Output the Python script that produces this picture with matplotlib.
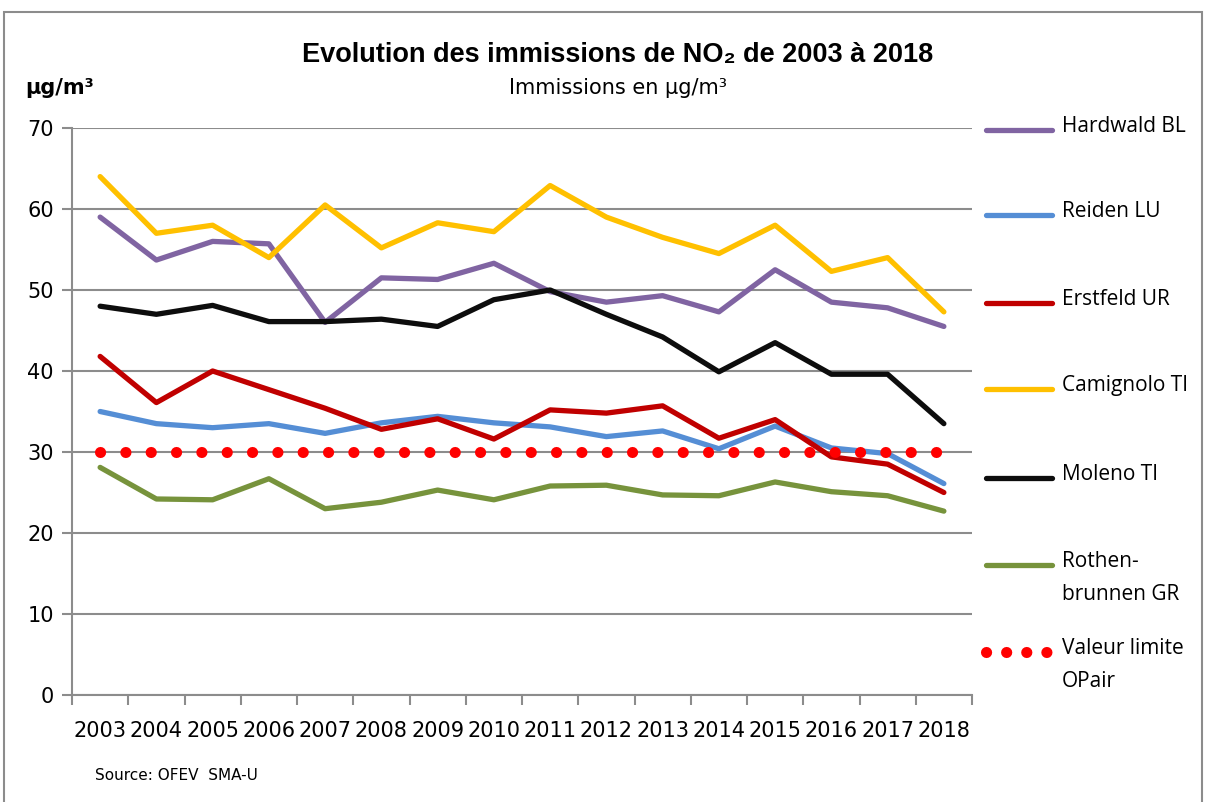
import numpy as np
import matplotlib.pyplot as plt
from matplotlib.patches import Rectangle
from matplotlib.lines import Line2D

# Données (µg/m3)
annees = list(range(2003, 2019))
hardwald = [59.0, 53.7, 56.0, 55.7, 46.0, 51.5, 51.3, 53.3, 49.8, 48.5, 49.3, 47.3, 52.5, 48.5, 47.8, 45.5]
reiden = [35.0, 33.5, 33.0, 33.5, 32.3, 33.6, 34.4, 33.6, 33.1, 31.9, 32.6, 30.4, 33.2, 30.5, 29.8, 26.1]
erstfeld = [41.8, 36.1, 40.0, 37.7, 35.4, 32.8, 34.1, 31.6, 35.2, 34.8, 35.7, 31.7, 34.0, 29.4, 28.5, 25.0]
camignolo = [64.0, 57.0, 58.0, 54.0, 60.5, 55.2, 58.3, 57.2, 62.9, 59.0, 56.5, 54.5, 58.0, 52.3, 54.0, 47.3]
moleno = [48.0, 47.0, 48.1, 46.1, 46.1, 46.4, 45.5, 48.8, 50.0, 47.0, 44.2, 39.9, 43.5, 39.6, 39.6, 33.5]
rothenbrunnen = [28.1, 24.2, 24.1, 26.7, 23.0, 23.8, 25.3, 24.1, 25.8, 25.9, 24.7, 24.6, 26.3, 25.1, 24.6, 22.7]
valeur_limite = [30] * 16

series = [
    ("Hardwald BL", hardwald, "#8064A2"),
    ("Reiden LU", reiden, "#558ED5"),
    ("Erstfeld UR", erstfeld, "#C00000"),
    ("Camignolo TI", camignolo, "#FFC000"),
    ("Moleno TI", moleno, "#0D0D0D"),
    ("Rothen-\nbrunnen GR", rothenbrunnen, "#77933C"),
]

plt.rcParams['font.family'] = ['DejaVu Sans']

W, H = 1206, 802
fig = plt.figure(figsize=(W / 100, H / 100), dpi=100)
ax = fig.add_axes([72 / W, 1 - 695 / H, 900 / W, 567 / H])

# cadre extérieur
fig.patches.append(Rectangle((4 / W, -0.05), 1198 / W, 1 - 12 / H + 0.05,
                             transform=fig.transFigure, fill=False,
                             edgecolor="#8c8c8c", linewidth=1.5))

style_ligne = dict(linewidth=3.8, solid_capstyle='round', solid_joinstyle='round')
style_limite = dict(color="#FF0000", linewidth=8, dashes=[0.01, 2.27], dash_capstyle='round')

for nom, valeurs, couleur in series:
    ax.plot(annees, valeurs, color=couleur, label=nom, **style_ligne)

ax.plot(annees, valeur_limite, label="Valeur limite\nOPair", **style_limite)

ax.set_xlim(2002.5, 2018.5)
ax.set_ylim(0, 70)
ax.set_yticks(range(0, 71, 10))
ax.set_xticks(annees)
ax.set_xticks(np.arange(2002.5, 2019, 1), minor=True)
ax.tick_params(axis='x', which='major', length=0, pad=19, labelsize=15)
ax.tick_params(axis='x', which='minor', length=7, width=1.5, color="#8c8c8c")
ax.tick_params(axis='y', length=7, width=1.5, color="#8c8c8c", pad=6, labelsize=15)
ax.grid(axis='y', color="#8c8c8c", linewidth=1.5)
ax.set_axisbelow(True)
for cote in ['top', 'right']:
    ax.spines[cote].set_visible(False)
for cote in ['left', 'bottom']:
    ax.spines[cote].set_color("#8c8c8c")
    ax.spines[cote].set_linewidth(1.5)

# légende dessinée à la main (une entrée tous les ~87 px)
police_leg = ['Open Sans', 'DejaVu Sans']
y_leg = [130, 215, 303, 389, 478, 565, 652]
entrees = [(nom, dict(color=c, **style_ligne)) for nom, _, c in series]
entrees.append(("Valeur limite\nOPair", dict(style_limite, dashes=[0.01, 1.8])))
for (nom, style), y in zip(entrees, y_leg):
    yf = 1 - y / H
    fig.add_artist(Line2D([986 / W, 1052 / W], [yf, yf], transform=fig.transFigure, **style))
    fig.text(1062 / W, 1 - (y - 14) / H, nom, ha='left', va='top', fontsize=15,
             family=police_leg, linespacing=1.75)

fig.text(618 / W, 1 - 55 / H, "Evolution des immissions de NO₂ de 2003 à 2018",
         ha='center', va='center', fontsize=19.5, fontweight='bold',
         family=['Liberation Sans', 'DejaVu Sans'])
fig.text(618 / W, 1 - 88 / H, "Immissions en µg/m³", ha='center', va='center',
         fontsize=15)
fig.text(25 / W, 1 - 88 / H, "µg/m³", ha='left', va='center', fontsize=15,
         fontweight='bold')
fig.text(95 / W, 1 - 775 / H, "Source: OFEV  SMA-U", ha='left', va='center',
         fontsize=11)

fig.savefig("out.png", dpi=100)
